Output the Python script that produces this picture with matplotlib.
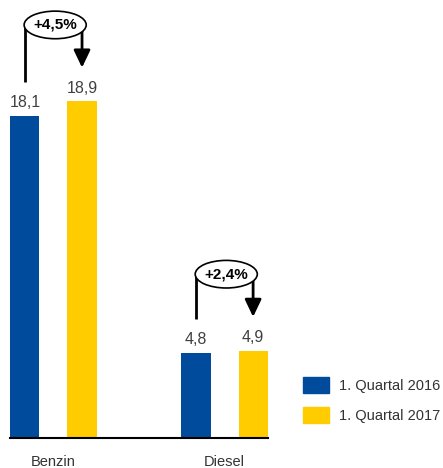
import numpy as np
import matplotlib
matplotlib.use("Agg")
import matplotlib.pyplot as plt
from matplotlib.patches import Ellipse, Patch

categories = ["Benzin", "Diesel"]
q2016 = [18.1, 4.8]
q2017 = [18.9, 4.9]
changes = ["+4,5%", "+2,4%"]
series_labels = ["1. Quartal 2016", "1. Quartal 2017"]

blue = "#004B9B"
yellow = "#FFCC00"
plt.rcParams['font.family'] = ['Liberation Sans', 'DejaVu Sans']

W, H = 443, 468
fig = plt.figure(figsize=(W / 100, H / 100), dpi=100)
ax = fig.add_axes([10 / W, 30 / H, 258 / W, 438 / H])

x = np.arange(len(categories))
off = 0.167
w = 0.17
ax.bar(x - off, q2016, w, color=blue)
ax.bar(x + off, q2017, w, color=yellow)

# value labels
for xs, vals in ((x - off, q2016), (x + off, q2017)):
    for xi, v in zip(xs, vals):
        ax.text(xi, v + 0.5, f"{v:.1f}".replace(".", ","), ha="center",
                va="baseline", fontsize=11.5, color="#404040")

# change annotations
for xi, a, b, lab in zip(x, q2016, q2017, changes):
    top = max(a, b) + 4.3
    ax.plot([xi - off, xi - off], [a + 1.9, top], color="black", lw=2,
            solid_capstyle="butt")
    ax.annotate("", xy=(xi + off, b + 1.9), xytext=(xi + off, top),
                arrowprops=dict(arrowstyle="-|>,head_length=1.05,head_width=0.5",
                                color="black", lw=2, shrinkA=0, shrinkB=0))
    ax.add_patch(Ellipse((xi + 0.01, top), 0.363, 1.55, facecolor="white",
                         edgecolor="black", lw=1.2, zorder=3))
    ax.text(xi + 0.01, top, lab, ha="center", va="center", fontsize=11,
            fontweight="bold", color="black", zorder=4)

ax.set_xlim(-0.254, 1.254)
ax.set_ylim(0, 24.6)
ax.set_xticks(x, categories)
ax.tick_params(axis="x", length=0, pad=12, labelsize=10.5, labelcolor="#333333")
ax.set_yticks([])
for s in ("top", "left", "right"):
    ax.spines[s].set_visible(False)
ax.spines["bottom"].set_linewidth(1.5)

handles = [Patch(color=blue), Patch(color=yellow)]
fig.legend(handles, series_labels, loc="upper left",
           bbox_to_anchor=(303 / W, 1 - 377 / H), frameon=False,
           borderpad=0, borderaxespad=0, handlelength=1.8, handleheight=1.3,
           handletextpad=0.7, labelspacing=1.0, fontsize=10.5,
           labelcolor="#333333")

fig.savefig("out.png", dpi=100)
